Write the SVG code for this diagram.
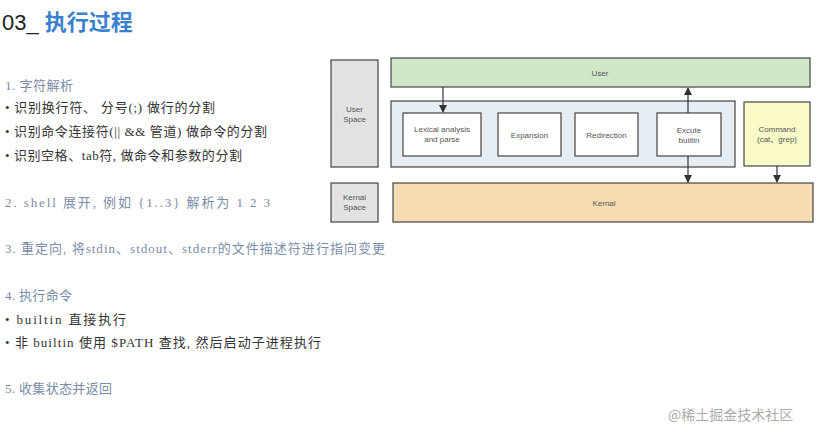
<svg xmlns="http://www.w3.org/2000/svg" width="829" height="433" viewBox="0 0 829 433">
<defs><marker id="a" markerWidth="8" markerHeight="8" refX="7" refY="4" orient="auto" markerUnits="userSpaceOnUse"><path d="M0,0 L8,4 L0,8 z" fill="#333"/></marker></defs>
<style>
.t{font-family:"Liberation Sans","Noto Sans CJK SC",sans-serif;font-size:8px;fill:#555;text-anchor:middle}
.l{font-family:"Liberation Serif","Noto Sans CJK SC",serif;font-size:13px;fill:#7a8ca8}
.b{font-family:"Liberation Serif","Noto Sans CJK SC",serif;font-size:13px;fill:#333}
.box{stroke:#444;stroke-width:1.2}
</style>
<rect width="829" height="433" fill="#fff"/>
<text x="2" y="30" font-family="Liberation Sans,Noto Sans CJK SC,sans-serif" font-size="22" fill="#222">03_ <tspan fill="#3b7fd1" font-weight="bold">执行过程</tspan></text>
<text class="l" x="5" y="90" textLength="68" lengthAdjust="spacing">1.  字符解析</text>
<text class="b" x="5" y="112" textLength="210" lengthAdjust="spacing">• 识别换行符、 分号(;) 做行的分割</text>
<text class="b" x="5" y="136" textLength="262" lengthAdjust="spacing">• 识别命令连接符(|| &amp;&amp; 管道) 做命令的分割</text>
<text class="b" x="5" y="160" textLength="237" lengthAdjust="spacing">• 识别空格、tab符, 做命令和参数的分割</text>
<text class="l" x="5" y="207" textLength="265" lengthAdjust="spacing">2.  shell 展开,  例如 {1..3} 解析为  1 2 3</text>
<text class="l" x="5" y="253" textLength="380" lengthAdjust="spacing">3.  重定向,  将stdin、stdout、stderr的文件描述符进行指向变更</text>
<text class="l" x="5" y="300" textLength="67" lengthAdjust="spacing">4.  执行命令</text>
<text class="b" x="5" y="324" textLength="121" lengthAdjust="spacing">• builtin 直接执行</text>
<text class="b" x="5" y="347" textLength="316" lengthAdjust="spacing">• 非 builtin 使用 $PATH 查找, 然后启动子进程执行</text>
<text class="l" x="5" y="393" textLength="107" lengthAdjust="spacing">5.  收集状态并返回</text>
<text x="668" y="420" font-family="Noto Sans CJK SC,sans-serif" font-size="14" fill="#aaa">@稀土掘金技术社区</text>
<g id="userspace"><rect class="box" x="331" y="60" width="47" height="107" fill="#e2e2e2"/><text class="t" x="354.5" y="112">User</text><text class="t" x="354.5" y="122">Space</text></g>
<g id="kernalspace"><rect class="box" x="331" y="183" width="47" height="39" fill="#e2e2e2"/><text class="t" x="354.5" y="200">Kernal</text><text class="t" x="354.5" y="210">Space</text></g>
<g id="user"><rect class="box" x="391" y="58" width="419" height="29" fill="#cfe8c9"/><text class="t" x="600" y="76">User</text></g>
<g id="shell"><rect class="box" x="391" y="101" width="344" height="66" fill="#e6edf3"/></g>
<g id="lex"><rect class="box" x="403" y="113" width="78" height="43" fill="#fff"/><text class="t" x="442" y="132">Lexical analysis</text><text class="t" x="442" y="142">and parse</text></g>
<g id="exp"><rect class="box" x="498" y="113" width="63" height="43" fill="#fff"/><text class="t" x="529.5" y="138">Expansion</text></g>
<g id="red"><rect class="box" x="575" y="113" width="63" height="43" fill="#fff"/><text class="t" x="606.5" y="138">Redirection</text></g>
<g id="exe"><rect class="box" x="657" y="113" width="64" height="43" fill="#fff"/><text class="t" x="689" y="133">Excute</text><text class="t" x="689" y="143">builtin</text></g>
<g id="cmd"><rect class="box" x="744" y="102" width="66" height="64" fill="#fafac8"/><text class="t" x="777" y="132">Command</text><text class="t" x="777" y="142">(cat、grep)</text></g>
<g id="kernal"><rect class="box" x="393" y="183" width="420" height="39" fill="#f6dcb2"/><text class="t" x="604" y="206">Kernal</text></g>
<g id="edges" stroke="#333" stroke-width="1.2" fill="none">
<line x1="443" y1="87" x2="443" y2="112" marker-end="url(#a)"/>
<line x1="688" y1="113" x2="688" y2="88" marker-end="url(#a)"/>
<line x1="688" y1="156" x2="688" y2="182" marker-end="url(#a)"/>
<line x1="777" y1="166" x2="777" y2="182" marker-end="url(#a)"/>
</g>
</svg>
